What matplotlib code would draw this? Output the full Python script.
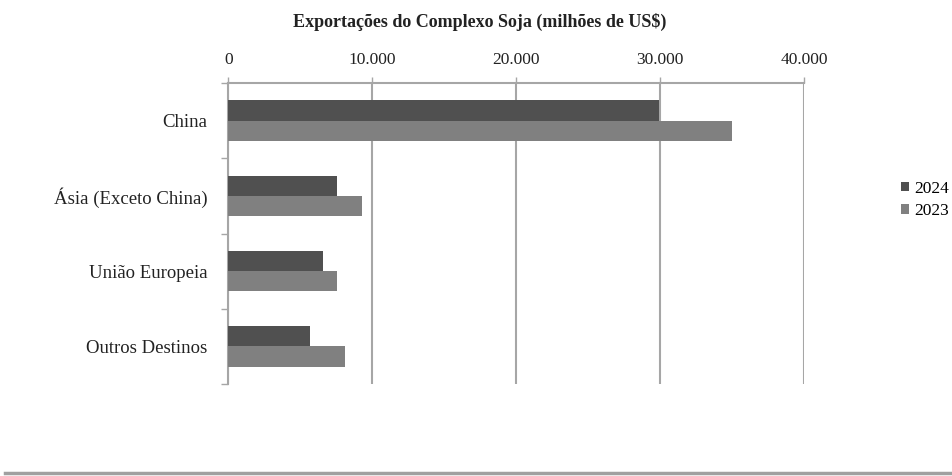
import matplotlib
matplotlib.use("Agg")
import matplotlib.pyplot as plt
from matplotlib.lines import Line2D
import numpy as np

plt.rcParams["font.family"] = ["Liberation Serif", "DejaVu Serif"]

categories = ["China", "Ásia (Exceto China)", "União Europeia", "Outros Destinos"]
series_names = ["2024", "2023"]
values_2024 = [29900, 7550, 6600, 5650]
values_2023 = [35000, 9300, 7550, 8130]
xticks = [0, 10000, 20000, 30000, 40000]
xtick_labels = ["0", "10.000", "20.000", "30.000", "40.000"]
title = "Exportações do Complexo Soja (milhões de US$)"

dark = "#505050"
light = "#808080"
grid = "#a6a6a6"

fig = plt.figure(figsize=(9.52, 4.76), dpi=100)
ax = fig.add_axes([0.240, 0.1933, 0.6045, 0.6323])

y = np.arange(len(categories))
h = 0.27
ax.barh(y - h / 2, values_2024, height=h, color=dark, label=series_names[0], zorder=3)
ax.barh(y + h / 2, values_2023, height=h, color=light, label=series_names[1], zorder=3)

ax.set_ylim(len(categories) - 0.5, -0.5)
ax.set_xlim(0, 40000)

ax.xaxis.tick_top()
ax.set_xticks(xticks)
ax.set_xticklabels(xtick_labels, fontsize=12.5, color="#222222")
ax.tick_params(axis="x", direction="out", length=4, width=1, color=grid, pad=7)
ax.grid(axis="x", color=grid, linewidth=1.5, zorder=0)

ax.set_yticks(y)
ax.set_yticklabels(categories, fontsize=13.5, color="#222222")
ax.tick_params(axis="y", which="major", length=0, pad=15)
ax.set_yticks(np.arange(len(categories) + 1) - 0.5, minor=True)
ax.tick_params(axis="y", which="minor", length=5, width=1, color=grid)

for s in ["right", "bottom"]:
    ax.spines[s].set_visible(False)
for s in ["top", "left"]:
    ax.spines[s].set_color(grid)
    ax.spines[s].set_linewidth(1.5)

fig.text(0.504, 0.953, title, ha="center", va="center", fontsize=13, fontweight="bold", color="#222222")

# legend kept just inside the right edge so the years stay readable
fig.legend(loc="center left", bbox_to_anchor=(0.946, 0.580), frameon=False, fontsize=12.5,
           handlelength=0.5, handleheight=0.5, handletextpad=0.3, labelspacing=0.38,
           borderaxespad=0, borderpad=0)

fig.add_artist(Line2D([0.005, 1.0], [0.007, 0.007], transform=fig.transFigure, color="#a0a0a0", linewidth=2.5))

fig.savefig("out.png", dpi=100)
